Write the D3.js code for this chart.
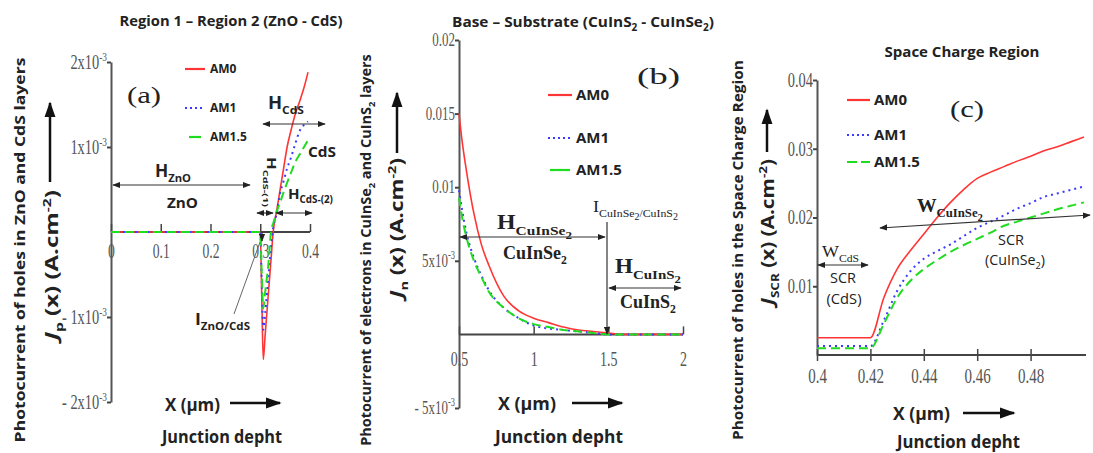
<!DOCTYPE html>
<html>
<head>
<meta charset="utf-8">
<script src="https://cdn.jsdelivr.net/npm/d3@7"></script>
<style>
  body { margin: 0; background: #fff; }
  svg { display: block; }
</style>
</head>
<body>
<svg id="fig" width="1093" height="453"></svg>
<script>
// ---- data ----
var seriesNames = ["AM0", "AM1", "AM1.5"];

// (a) ZnO - CdS, holes
var aX    = [0, 0.1, 0.2, 0.295, 0.300, 0.303, 0.306, 0.310, 0.316, 0.322, 0.326, 0.333, 0.340, 0.347, 0.354, 0.362, 0.370, 0.380, 0.388, 0.396];
var aAM0  = [0, 0, 0, 0, 0, -0.75e-3, -1.5e-3, -1.2e-3, -0.75e-3, -0.3e-3, 0, 0.25e-3, 0.5e-3, 0.75e-3, 1.0e-3, 1.2e-3, 1.38e-3, 1.55e-3, 1.7e-3, 1.88e-3];
var aAM1  = [0, 0, 0, 0, 0, -0.6e-3, -1.15e-3, -0.95e-3, -0.55e-3, -0.15e-3, 0.05e-3, 0.22e-3, 0.46e-3, 0.6e-3, 0.75e-3, 0.88e-3, 1.03e-3, 1.2e-3, 1.26e-3, 1.3e-3];
var aAM15 = [0, 0, 0, 0, 0, -0.5e-3, -0.9e-3, -0.7e-3, -0.4e-3, 0.02e-3, 0.1e-3, 0.24e-3, 0.35e-3, 0.47e-3, 0.58e-3, 0.7e-3, 0.82e-3, 0.92e-3, 1.0e-3, 1.08e-3];
var aXTicks = [0, 0.1, 0.2, 0.3, 0.4];
var aXLabels = ["0", "0.1", "0.2", "0.3", "0.4"];
var aYTicks = [2e-3, 1e-3, -1e-3, -2e-3];
var aYLabels = ["2x10^{-3}", "1x10^{-3}", "- 1x10^{-3}", "- 2x10^{-3}"];

// (b) CuInSe2 - CuInS2, electrons
var bX    = [0.5, 0.52, 0.55, 0.6, 0.65, 0.7, 0.8, 0.9, 1.0, 1.1, 1.2, 1.3, 1.4, 1.5, 1.6, 1.7, 1.8, 1.9, 2.0];
var bAM0  = [0.0150, 0.0132, 0.0111, 0.0082, 0.0061, 0.0047, 0.0026, 0.0016, 0.0011, 0.0008, 0.0005, 0.0003, 0.0002, 0.0001, 0, 0, 0, 0, 0];
var bAM1  = [0.0098, 0.0085, 0.0069, 0.0052, 0.0040, 0.0030, 0.0018, 0.0011, 0.0006, 0.0004, 0.0003, 0.0002, 0.0001, 0, 0, 0, 0, 0, 0];
var bAM15 = [0.0093, 0.0080, 0.0066, 0.0050, 0.0039, 0.0029, 0.0018, 0.0011, 0.0007, 0.0005, 0.0003, 0.0002, 0.0001, 0, 0, 0, 0, 0, 0];
var bXTicks = [0.5, 1, 1.5, 2];
var bXLabels = ["0.5", "1", "1.5", "2"];
var bYTicks = [0.02, 0.015, 0.01, 0.005, -0.005];
var bYLabels = ["0.02", "0.015", "0.01", "5x10^{-3}", "- 5x10^{-3}"];

// (c) space charge region
var cX    = [0.40, 0.42, 0.425, 0.43, 0.435, 0.44, 0.445, 0.45, 0.455, 0.46, 0.465, 0.47, 0.475, 0.48, 0.485, 0.49, 0.495, 0.50];
var cAM0  = [0.0025, 0.0025, 0.0083, 0.0125, 0.0152, 0.0176, 0.0200, 0.0222, 0.0241, 0.0257, 0.0266, 0.0274, 0.0282, 0.0289, 0.0297, 0.0303, 0.0310, 0.0317];
var cAM1  = [0.0013, 0.0013, 0.0050, 0.0093, 0.0122, 0.0140, 0.0151, 0.0161, 0.0173, 0.0185, 0.0194, 0.0203, 0.0213, 0.0221, 0.0230, 0.0235, 0.0240, 0.0245];
var cAM15 = [0.0010, 0.0010, 0.0045, 0.0083, 0.0108, 0.0125, 0.0138, 0.0150, 0.0160, 0.0169, 0.0178, 0.0188, 0.0194, 0.0200, 0.0206, 0.0212, 0.0217, 0.0222];
var cXTicks = [0.4, 0.42, 0.44, 0.46, 0.48];
var cXLabels = ["0.4", "0.42", "0.44", "0.46", "0.48"];
var cYTicks = [0.04, 0.03, 0.02, 0.01];
var cYLabels = ["0.04", "0.03", "0.02", "0.01"];

// ---- styles ----
var SANS = "'Open Sans', 'DejaVu Sans', sans-serif";
var SERIF = "'Liberation Serif', 'DejaVu Serif', serif";
var styles = [
  {stroke: "#ff3535", width: 1.6, dash: null},
  {stroke: "#3b3bff", width: 2, dash: "2,4"},
  {stroke: "#1fdc1f", width: 2, dash: "9,5"}
];

var svg = d3.select("#fig");
var defs = svg.append("defs");
defs.append("marker").attr("id", "ah")
  .attr("viewBox", "0 0 10 10").attr("refX", 9).attr("refY", 5)
  .attr("markerUnits", "userSpaceOnUse").attr("markerWidth", 8).attr("markerHeight", 8)
  .attr("orient", "auto-start-reverse")
  .append("path").attr("d", "M0,1 L10,5 L0,9 z").attr("fill", "#222");
defs.append("marker").attr("id", "bh")
  .attr("viewBox", "0 0 10 10").attr("refX", 9).attr("refY", 5)
  .attr("markerUnits", "userSpaceOnUse").attr("markerWidth", 16).attr("markerHeight", 16)
  .attr("orient", "auto-start-reverse")
  .append("path").attr("d", "M0,1.5 L10,5 L0,8.5 z").attr("fill", "#111");

// text with _{sub} ^{sup} .{subsub} *{italic} markup, optionally squeezed to a width
function rich(g, x, y, str, o) {
  o = o || {};
  var size = o.size || 13;
  var t = g.append("text").attr("x", x).attr("y", y)
    .attr("font-family", o.family || SANS).attr("font-size", size)
    .attr("font-weight", o.weight || "normal").attr("fill", o.fill || "#222")
    .attr("text-anchor", o.anchor || "start");
  var parts = str.split(/([_^.*]\{[^}]*\})/).filter(function(s) { return s.length; });
  var shift = 0;
  parts.forEach(function(p) {
    var m = p.match(/^([_^.*])\{([^}]*)\}$/);
    if (m && m[1] != "*") {
      var d = m[1] == "_" ? size * 0.3 : (m[1] == "." ? size * 0.5 : -size * 0.42);
      t.append("tspan").attr("dy", d - shift).attr("font-size", size * (m[1] == "." ? 0.55 : 0.65)).text(m[2]);
      shift = d;
    } else if (m) {
      t.append("tspan").attr("dy", -shift).attr("font-style", "italic").text(m[2]);
      shift = 0;
    } else {
      t.append("tspan").attr("dy", -shift).text(p);
      shift = 0;
    }
  });
  var tr = "";
  if (o.rotate) tr += "rotate(" + o.rotate + "," + x + "," + y + ") ";
  if (o.width) {
    var w = t.node().getComputedTextLength();
    tr += "translate(" + x + "," + y + ") scale(" + (o.width / w) + ",1) translate(" + (-x) + "," + (-y) + ")";
  } else if (o.sx) {
    tr += "translate(" + x + "," + y + ") scale(" + o.sx + ",1) translate(" + (-x) + "," + (-y) + ")";
  }
  if (tr) t.attr("transform", tr);
  return t;
}

function arrow(g, x1, y1, x2, y2, both, big) {
  var l = g.append("line").attr("x1", x1).attr("y1", y1).attr("x2", x2).attr("y2", y2)
    .attr("stroke", big ? "#111" : "#333").attr("stroke-width", big ? 2.5 : 1.2)
    .attr("marker-end", big ? "url(#bh)" : "url(#ah)");
  if (both) l.attr("marker-start", "url(#ah)");
  return l;
}

function panel(p) {
  var g = svg.append("g");
  var x = d3.scaleLinear().domain(p.xDom).range(p.xR);
  var y = d3.scaleLinear().domain(p.yDom).range(p.yR);

  // y axis
  var yg = g.append("g").attr("transform", "translate(" + p.xR[0] + ",0)")
    .call(d3.axisLeft(y).tickValues(p.yTicks).tickSize(4).tickSizeOuter(0).tickFormat(""));
  yg.select(".domain").attr("stroke", "#555").attr("stroke-width", 2);
  yg.selectAll(".tick line").attr("stroke", "#444").attr("stroke-width", 2);
  p.yTicks.forEach(function(v, i) {
    rich(g, p.xR[0] - 4, y(v) + p.yLabDy, p.yLabels[i],
      {family: SERIF, size: p.yLabSize, fill: "#555", anchor: "end", sx: 0.72});
  });

  // x axis
  var xg = g.append("g").attr("transform", "translate(0," + y(0) + ")")
    .call(d3.axisBottom(x).tickValues(p.xTicks).tickSize(-8).tickSizeOuter(0)
      .tickPadding(p.xPad).tickFormat(function(d, i) { return p.xLabels[i]; }));
  xg.select(".domain").attr("stroke", "#444").attr("stroke-width", 2).attr("d", "M" + p.xR[0] + ",0H" + p.xEnd);
  xg.selectAll(".tick line").attr("stroke", "#444").attr("stroke-width", 1.5);
  if (p.crossTicks) xg.selectAll(".tick line").attr("y1", -6).attr("y2", 6);
  xg.selectAll(".tick text").attr("font-family", SERIF).attr("font-size", p.xLabSize)
    .attr("fill", "#555").attr("transform", "scale(" + p.xSx + ",1)");

  // curves
  var line = d3.line().x(function(d, i) { return x(p.xs[i]); }).y(function(d) { return y(d); })
    .curve(d3.curveMonotoneX);
  p.series.forEach(function(s, k) {
    var st = styles[k];
    g.append("path").datum(s).attr("d", line).attr("fill", "none")
      .attr("stroke", st.stroke).attr("stroke-width", st.width)
      .attr("stroke-dasharray", st.dash);
  });

  // legend
  seriesNames.forEach(function(n, k) {
    var st = styles[k], ly = p.leg.ys[k];
    g.append("line").attr("x1", p.leg.x1 + (k == 2 ? p.leg.greenInset : 0)).attr("x2", p.leg.x2 - (k == 2 ? p.leg.greenInset : 0))
      .attr("y1", ly).attr("y2", ly).attr("stroke", st.stroke).attr("stroke-width", 2.2)
      .attr("stroke-dasharray", k == 1 ? "2,3" : (k == 2 && p.leg.greenDash ? p.leg.greenDash : null));
    rich(g, p.leg.tx, ly + p.leg.size * 0.36, n, {size: p.leg.size, weight: "bold", fill: "#222"});
  });
  return {g: g, x: x, y: y};
}

// ---- panel (a) ----
var A = panel({
  xDom: [0, 0.4], xR: [111, 310], xEnd: 310, yDom: [-2e-3, 2e-3], yR: [402, 62],
  xTicks: aXTicks, xLabels: aXLabels, yTicks: aYTicks, yLabels: aYLabels,
  xPad: 10, xLabSize: 22, xSx: 0.62, yLabSize: 20, yLabDy: 7,
  xs: aX, series: [aAM0, aAM1, aAM15],
  leg: {x1: 185, x2: 205, tx: 210, ys: [69, 108, 137], size: 12, greenInset: 4}
});
rich(A.g, 231, 26, "Region 1 – Region 2 (ZnO - CdS)", {size: 15, weight: "bold", anchor: "middle", width: 223});
rich(A.g, 127, 103, "(a)", {family: SERIF, size: 23, width: 34});
rich(A.g, 268, 109, "H_{CdS}", {size: 17, weight: "bold", width: 36});
arrow(A.g, 263, 124, 325, 124, true);
rich(A.g, 308, 157, "CdS", {size: 15, weight: "bold", width: 28});
rich(A.g, 155, 177, "H_{ZnO}", {size: 17, weight: "bold", width: 36});
arrow(A.g, 113, 185, 250, 185, true);
rich(A.g, 167, 208, "ZnO", {size: 15, weight: "bold", width: 31});
rich(A.g, 267, 157, "H_{CdS-(1)}", {size: 12, weight: "bold", rotate: 90, width: 50});
arrow(A.g, 257, 213, 273, 213, true);
arrow(A.g, 276, 213, 312, 213, true);
rich(A.g, 288, 199, "H_{CdS-(2)}", {size: 15, weight: "bold", width: 45});
rich(A.g, 195, 325, "I_{ZnO/CdS}", {size: 16, weight: "bold", width: 55});
A.g.append("line").attr("x1", 234).attr("y1", 314).attr("x2", 260).attr("y2", 242)
  .attr("stroke", "#666").attr("stroke-width", 1);
arrow(A.g, 262, 232, 262, 241, false);
rich(A.g, 165, 411, "X (µm)", {size: 17, weight: "bold", width: 55});
arrow(A.g, 230, 403, 280, 403, false, true);
rich(A.g, 162, 443, "Junction depht", {size: 17, weight: "bold", width: 120});
rich(A.g, 25, 250, "Photocurrent of holes in ZnO and CdS layers", {size: 15, weight: "bold", anchor: "middle", rotate: -90, width: 385});
rich(A.g, 58, 265, "*{J}_{p} (x) (A.cm^{-2})", {size: 17, weight: "bold", anchor: "middle", rotate: -90, width: 150});
arrow(A.g, 50, 182, 50, 103, false, true);

// ---- panel (b) ----
var B = panel({
  xDom: [0.5, 2], xR: [459, 683], xEnd: 683, yDom: [-0.005, 0.02], yR: [408, 40],
  xTicks: bXTicks, xLabels: bXLabels, yTicks: bYTicks, yLabels: bYLabels,
  xPad: 17, xLabSize: 20, xSx: 0.7, yLabSize: 18, yLabDy: 6,
  xs: bX, series: [bAM0, bAM1, bAM15],
  leg: {x1: 548, x2: 572, tx: 576, ys: [95, 138, 170], size: 15, greenInset: 2}
});
rich(B.g, 583, 27, "Base – Substrate (CuInS_{2} - CuInSe_{2})", {size: 15, weight: "bold", anchor: "middle", width: 262});
rich(B.g, 637, 84, "(b)", {family: SERIF, size: 24, width: 43});
rich(B.g, 497, 229, "H_{CuInSe}.{2}", {family: SERIF, size: 20, weight: "bold", width: 75});
arrow(B.g, 460, 237, 605, 237, true);
rich(B.g, 503, 259, "CuInSe_{2}", {family: SERIF, size: 18, weight: "bold", width: 64});
rich(B.g, 593, 212, "I_{CuInSe}.{2}_{/CuInS}.{2}", {family: SERIF, size: 17, width: 85});
arrow(B.g, 607, 222, 607, 334, false);
rich(B.g, 615, 273, "H_{CuInS}.{2}", {family: SERIF, size: 20, weight: "bold", width: 66});
arrow(B.g, 609, 288, 681, 288, true);
rich(B.g, 620, 308, "CuInS_{2}", {family: SERIF, size: 18, weight: "bold", width: 56});
rich(B.g, 498, 410, "X (µm)", {size: 17, weight: "bold", width: 58});
arrow(B.g, 572, 403, 622, 403, false, true);
rich(B.g, 495, 443, "Junction depht", {size: 17, weight: "bold", width: 128});
rich(B.g, 371, 250, "Photocurrent of electrons in CuInSe_{2} and CuInS_{2} layers", {size: 14, weight: "bold", anchor: "middle", rotate: -90, width: 392});
rich(B.g, 403, 228, "*{J}_{n} (x) (A.cm^{-2})", {size: 17, weight: "bold", anchor: "middle", rotate: -90, width: 140});
arrow(B.g, 397, 153, 397, 93, false, true);

// ---- panel (c) ----
var C = panel({
  xDom: [0.4, 0.5], xR: [817, 1084], xEnd: 1086, yDom: [0, 0.04], yR: [355, 80],
  xTicks: cXTicks, xLabels: cXLabels, yTicks: cYTicks, yLabels: cYLabels,
  xPad: 14, xLabSize: 20, xSx: 0.75, yLabSize: 20, yLabDy: 7, crossTicks: true,
  xs: cX, series: [cAM0, cAM1, cAM15],
  leg: {x1: 847, x2: 870, tx: 874, ys: [100, 135, 162], size: 15, greenInset: 0, greenDash: "10,4"}
});
rich(C.g, 962, 57, "Space Charge Region", {size: 15, weight: "bold", anchor: "middle", width: 155});
rich(C.g, 950, 117, "(c)", {family: SERIF, size: 23, width: 34});
rich(C.g, 917, 212, "W_{CuInSe}.{2}", {family: SERIF, size: 18, weight: "bold", width: 66});
arrow(C.g, 880, 228, 1090, 215, true);
rich(C.g, 822, 257, "W_{CdS}", {family: SERIF, size: 17, width: 37});
arrow(C.g, 818, 265, 868, 265, true);
rich(C.g, 843, 283, "SCR", {size: 14, anchor: "middle", width: 26});
rich(C.g, 844, 304, "(CdS)", {size: 14, anchor: "middle", width: 35});
rich(C.g, 1011, 245, "SCR", {size: 14, anchor: "middle", width: 26});
rich(C.g, 1015, 265, "(CuInSe_{2})", {size: 14, anchor: "middle", width: 60});
rich(C.g, 893, 420, "X (µm)", {size: 17, weight: "bold", width: 57});
arrow(C.g, 963, 413, 1014, 413, false, true);
rich(C.g, 897, 448, "Junction depht", {size: 17, weight: "bold", width: 123});
rich(C.g, 743, 250, "Photocurrent of holes in the Space Charge Region", {size: 14, weight: "bold", anchor: "middle", rotate: -90, width: 380});
rich(C.g, 774, 232, "*{J}_{SCR} (x) (A.cm^{-2})", {size: 17, weight: "bold", anchor: "middle", rotate: -90, width: 146});
arrow(C.g, 767, 152, 767, 110, false, true);
</script>
</body>
</html>
